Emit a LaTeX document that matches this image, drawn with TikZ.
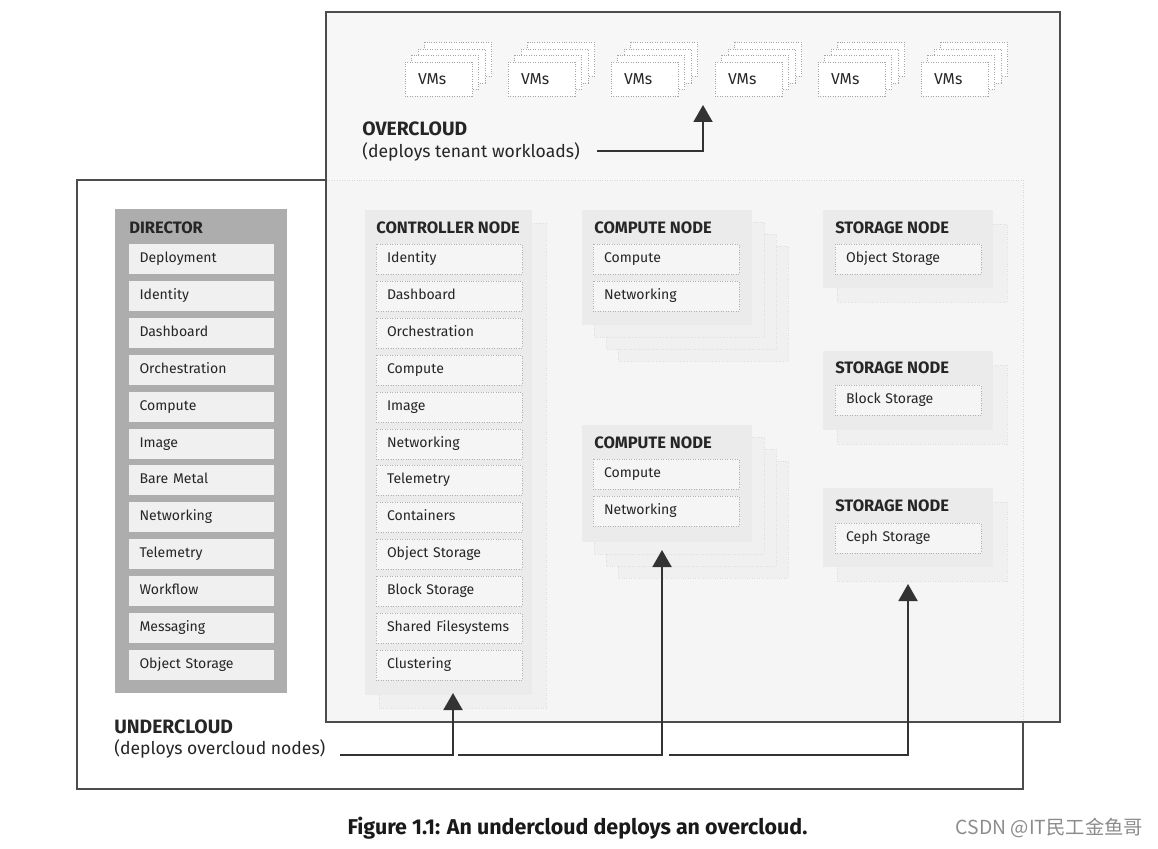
\documentclass[tikz,border=0pt]{standalone}
\usepackage{fontspec}
\setmainfont{Fira Sans}
\newfontfamily\cjkfont{Noto Sans CJK SC}
\usetikzlibrary{arrows.meta}

\tikzset{
  frame/.style={draw=black!70, line width=1.1pt},
  title/.style={anchor=west, inner sep=0pt, text=black!85, font=\bfseries\fontsize{9.4}{10}\selectfont},
  biglabel/.style={anchor=west, inner sep=0pt, text=black!85, font=\fontsize{10}{12}\selectfont},
  bigtitle/.style={biglabel, font=\bfseries\fontsize{11}{12}\selectfont},
  item/.style={text=black!85, font=\fontsize{8}{9}\selectfont, text width=2.48cm, inner xsep=0.22cm, inner ysep=0pt,
    minimum height=0.6cm, align=left, text height=6pt, text depth=1.5pt},
  diritem/.style={item, fill=black!6},
  nodeitem/.style={item, fill=black!4, draw=black!30, densely dotted},
  vmbox/.style={fill=white, draw=black!35, densely dotted},
  vm/.style={vmbox, text=black!85, font=\fontsize{9}{10}\selectfont, text width=0.82cm, inner xsep=0.26cm,
    minimum height=0.68cm, align=left},
  shade/.style={fill=black!6, draw=black!13, densely dotted},
  panel/.style={fill=black!8},
  arr/.style={-{Triangle[width=0.38cm,length=0.34cm]}, line width=1.1pt, draw=black!80},
}

\begin{document}
\begin{tikzpicture}[x=0.02cm, y=-0.02cm]
  \useasboundingbox (0,0) rectangle (1158,848);

  \draw[frame, fill=white] (77,180) rectangle (1023,789);
  \draw[frame, fill=black!3] (326,12) rectangle (1060,722);
  \fill[black!4] (327,181) rectangle (1023,721);
  \draw[black!16, densely dotted] (327,180) -- (1023,180) -- (1023,721);

  \fill[black!32] (115,209) rectangle (287,693);
  \draw[shade] (379,223) rectangle (546,708);
  \fill[panel] (365,210) rectangle (532,695);
  \foreach \k in {3,2,1} {
    \draw[shade] (582+12*\k,210+12*\k) rectangle (752+12*\k,325+12*\k);
    \draw[shade] (582+12*\k,425+12*\k) rectangle (752+12*\k,542+12*\k);
  }
  \fill[panel] (582,210) rectangle (752,325);
  \fill[panel] (582,425) rectangle (752,542);
  \draw[shade] (837,224) rectangle (1007,302);
  \draw[shade] (837,365) rectangle (1007,444);
  \draw[shade] (837,502) rectangle (1007,581);
  \fill[panel] (823,210) rectangle (993,288);
  \fill[panel] (823,351) rectangle (993,430);
  \fill[panel] (823,488) rectangle (993,567);

  \node[title] (dir) at (129,228) {DIRECTOR};
  \node[diritem] (d1) at (201.5,259) {Deployment};
  \node[diritem] (d2) at (201.5,296) {Identity};
  \node[diritem] (d3) at (201.5,333) {Dashboard};
  \node[diritem] (d4) at (201.5,370) {Orchestration};
  \node[diritem] (d5) at (201.5,407) {Compute};
  \node[diritem] (d6) at (201.5,444) {Image};
  \node[diritem] (d7) at (201.5,480) {Bare Metal};
  \node[diritem] (d8) at (201.5,517) {Networking};
  \node[diritem] (d9) at (201.5,554) {Telemetry};
  \node[diritem] (d10) at (201.5,591) {Workflow};
  \node[diritem] (d11) at (201.5,628) {Messaging};
  \node[diritem] (d12) at (201.5,665) {Object Storage};

  \node[title] (ctrl) at (376,228) {CONTROLLER NODE};
  \node[nodeitem] (c1) at (449,259) {Identity};
  \node[nodeitem] (c2) at (449,296) {Dashboard};
  \node[nodeitem] (c3) at (449,333) {Orchestration};
  \node[nodeitem] (c4) at (449,370) {Compute};
  \node[nodeitem] (c5) at (449,407) {Image};
  \node[nodeitem] (c6) at (449,444) {Networking};
  \node[nodeitem] (c7) at (449,480) {Telemetry};
  \node[nodeitem] (c8) at (449,517) {Containers};
  \node[nodeitem] (c9) at (449,554) {Object Storage};
  \node[nodeitem] (c10) at (449,591) {Block Storage};
  \node[nodeitem] (c11) at (449,628) {Shared Filesystems};
  \node[nodeitem] (c12) at (449,665) {Clustering};

  \node[title] (comp1) at (594,228) {COMPUTE NODE};
  \node[nodeitem] (k1) at (666,259) {Compute};
  \node[nodeitem] (k2) at (666,296) {Networking};
  \node[title] (comp2) at (594,443) {COMPUTE NODE};
  \node[nodeitem] (k3) at (666,474) {Compute};
  \node[nodeitem] (k4) at (666,511) {Networking};

  \node[title] (stor1) at (835,228) {STORAGE NODE};
  \node[nodeitem] (s1) at (908,259) {Object Storage};
  \node[title] (stor2) at (835,368) {STORAGE NODE};
  \node[nodeitem] (s2) at (908,400) {Block Storage};
  \node[title] (stor3) at (835,506) {STORAGE NODE};
  \node[nodeitem] (s3) at (908,538) {Ceph Storage};

  \foreach \x in {405,508,611,715,818,921}
    \foreach \k in {3,2,1}
      \draw[vmbox] (\x+6.5*\k,62-6.5*\k) rectangle +(67,34);
  \node[vm] (vm1) at (438.5,79) {VMs};
  \node[vm] (vm2) at (541.5,79) {VMs};
  \node[vm] (vm3) at (644.5,79) {VMs};
  \node[vm] (vm4) at (748.5,79) {VMs};
  \node[vm] (vm5) at (851.5,79) {VMs};
  \node[vm] (vm6) at (954.5,79) {VMs};

  \node[bigtitle] (over) at (362,129) {OVERCLOUD};
  \node[biglabel] (overtext) at (362,152) {(deploys tenant workloads)};
  \node[bigtitle] (under) at (114,727) {UNDERCLOUD};
  \node[biglabel] (undertext) at (114,749) {(deploys overcloud nodes)};

  \coordinate (o0) at (597,151);
  \coordinate (t0) at (703,105);
  \coordinate (u0) at (340,755);
  \coordinate (u1) at (458,755);
  \coordinate (u2) at (669,755);
  \coordinate (t1) at (453,693);
  \coordinate (t2) at (662,550);
  \coordinate (t3) at (908,584);
  \draw[arr] (o0) -| (t0);
  \draw[arr] (u0) -| (t1);
  \draw[arr] (u1) -| (t2);
  \draw[arr] (u2) -| (t3);

  \node[text=black!90, font=\bfseries\fontsize{12.2}{14}\selectfont] (caption) at (577.5,828)
    {Figure 1.1: An undercloud deploys an overcloud.};
  \node[text=black!45, font=\cjkfont\fontsize{11}{13}\selectfont] (mark) at (1049.5,828)
    {CSDN @IT民工金鱼哥};
\end{tikzpicture}
\end{document}
